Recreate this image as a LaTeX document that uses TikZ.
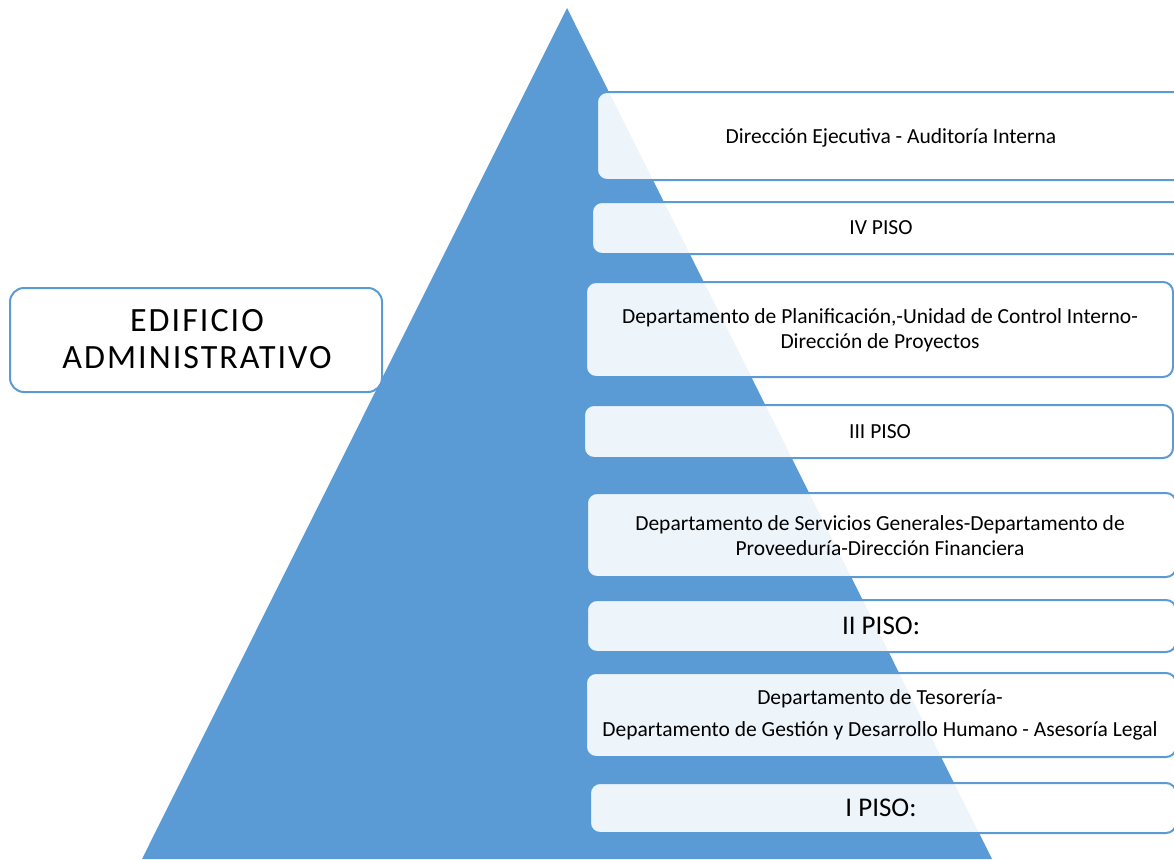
\documentclass[tikz,border=0pt]{standalone}
\usepackage{fontspec}
\setmainfont{Carlito}
\newfontfamily\spacedfont[LetterSpace=6]{Carlito}
\definecolor{tri}{HTML}{5B9BD5}
\tikzset{
  floorbox/.style={draw=tri, line width=2pt, fill=white, fill opacity=0.9, rounded corners=10pt, inner sep=0pt},
  titlebox/.style={draw=tri, line width=2pt, fill=white, rounded corners=14pt, inner sep=0pt},
  txt/.style={font=\fontsize{21.5}{25}\selectfont, align=center, inner sep=0pt, text=black},
  bigtxt/.style={font=\fontsize{27}{30}\selectfont, align=center, inner sep=0pt, text=black},
  titletxt/.style={font=\spacedfont\fontsize{34}{37}\selectfont, align=center, inner sep=0pt, text=black}
}
\begin{document}
\begin{tikzpicture}[x=1pt,y=-1pt]
\useasboundingbox (0,0) rectangle (1174,859);
\clip (0,0) rectangle (1174,859);
% pyramid
\fill[tri] (567,8) -- (992,859) -- (142,859) -- cycle;
% floor boxes
\node[floorbox, minimum width=598pt, minimum height=88pt] (b1) at (896,136) {};
\node[floorbox, minimum width=603pt, minimum height=52pt] (b2) at (893.5,228) {};
\node[floorbox, minimum width=587pt, minimum height=95pt] (b3) at (879.5,329.5) {};
\node[floorbox, minimum width=589pt, minimum height=53pt] (b4) at (878.5,431.5) {};
\node[floorbox, minimum width=589pt, minimum height=84pt] (b5) at (881.5,535) {};
\node[floorbox, minimum width=589pt, minimum height=52pt] (b6) at (881.5,626) {};
\node[floorbox, minimum width=590pt, minimum height=84pt] (b7) at (881,715) {};
\node[floorbox, minimum width=586pt, minimum height=50pt] (b8) at (883,808) {};
% texts
\node[txt] (t1) at (891,138) {Dirección Ejecutiva - Auditoría Interna};
\node[txt] (t2) at (881,228) {IV PISO};
\node[txt] (t3) at (880,330) {Departamento de Planificación,-Unidad de Control Interno-\\Dirección de Proyectos};
\node[txt] (t4) at (880,432) {III PISO};
\node[txt] (t5) at (880,536) {Departamento de Servicios Generales-Departamento de\\Proveeduría-Dirección Financiera};
\node[bigtxt] (t6) at (881,626) {II PISO:};
\node[txt] (t7) at (880,715) {Departamento de Tesorería-\\[7pt]Departamento de Gestión y Desarrollo Humano - Asesoría Legal};
\node[bigtxt] (t8) at (881,808) {I PISO:};
% title box
\node[titlebox, minimum width=372pt, minimum height=104pt] (tb) at (196,340) {};
\node[titletxt] (tt) at (197,339) {EDIFICIO\\ADMINISTRATIVO};
\end{tikzpicture}
\end{document}
